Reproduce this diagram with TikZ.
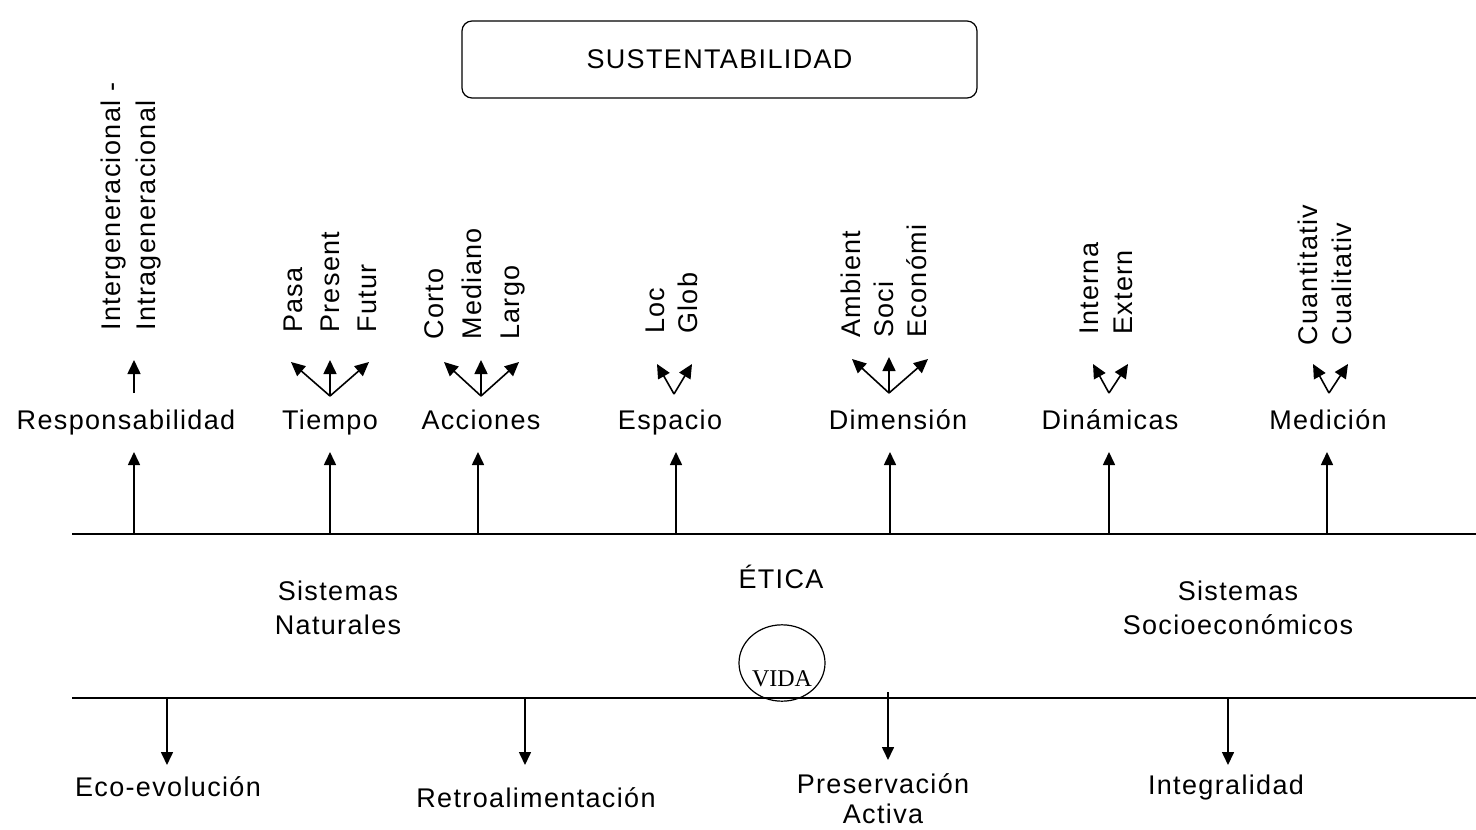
\documentclass[tikz,border=0pt]{standalone}
\usepackage{fontspec}
\setmainfont[LetterSpace=5]{Liberation Sans}
\newfontfamily\vidafont{Liberation Serif}
\usetikzlibrary{arrows.meta,shapes.geometric}
\begin{document}
\begin{tikzpicture}[x=1pt,y=-1pt,
  lbl/.style={font=\fontsize{27}{34}\selectfont, inner sep=0pt, align=center},
  vlbl/.style={font=\fontsize{27}{#1}\selectfont, inner sep=0pt, align=left, rotate=90, anchor=west},
  vlbl/.default=34,
  arr/.style={line width=1.6pt, -{Triangle[length=13pt,width=12pt]}},
  farr/.style={line width=1.6pt, -{Triangle[length=14pt,width=13pt]}},
  axis/.style={line width=1.8pt}]
\useasboundingbox (0,0) rectangle (1476,830);
% title
\node[draw, line width=1.2pt, rounded corners=10pt, minimum width=515pt, minimum height=77pt, font=\fontsize{27}{34}\selectfont] (sust) at (719.5,59.5) {SUSTENTABILIDAD};
% axes
\coordinate (l1a) at (72,534); \coordinate (l1b) at (1476,534);
\coordinate (l2a) at (72,698); \coordinate (l2b) at (1476,698);
\draw[axis] (l1a) -- (l1b);
\draw[axis] (l2a) -- (l2b);
% main labels
\node[lbl, anchor=base] (resp) at (126,429) {Responsabilidad};
\node[lbl, anchor=base] (tiem) at (330,429) {Tiempo};
\node[lbl, anchor=base] (acci) at (481,429) {Acciones};
\node[lbl, anchor=base] (espa) at (670,429) {Espacio};
\node[lbl, anchor=base] (dime) at (898,429) {Dimensión};
\node[lbl, anchor=base] (dina) at (1110,429) {Dinámicas};
\node[lbl, anchor=base] (medi) at (1328,429) {Medición};
% up arrows from axis
\foreach \n/\x in {resp/134,tiem/330,acci/478,espa/676,dime/890,dina/1109,medi/1327}{
  \coordinate (\n-b) at (\x,534);
  \coordinate (\n-t) at (\x,452);
  \draw[arr] (\n-b) -- (\n-t);
}
% sub-labels (rotated)
\node[vlbl=35] (resp-s) at (131,331) {Intergeneracional -\\Intrageneracional};
\node[vlbl=37] (tiem-s) at (330,333) {Pasa\\Present\\Futur};
\node[vlbl=38] (acci-s) at (475,340) {Corto\\Mediano\\Largo};
\node[vlbl=33] (espa-s) at (672,334) {Loc\\Glob};
\node[vlbl=33] (dime-s) at (884,338) {Ambient\\Soci\\Económi};
\node[vlbl=34] (dina-s) at (1106,335) {Interna\\Extern};
\node[vlbl=34] (medi-s) at (1325,346) {Cuantitativ\\Cualitativ};
% small arrows
\coordinate (r-o) at (134,393); \coordinate (r-1) at (134,360);
\draw[farr] (r-o) -- (r-1);
\coordinate (t-o) at (330,396);
\coordinate (t-1) at (291,362); \coordinate (t-2) at (330,360); \coordinate (t-3) at (369,362);
\draw[farr] (t-o) -- (t-1); \draw[farr] (t-o) -- (t-2); \draw[farr] (t-o) -- (t-3);
\coordinate (a-o) at (481,396);
\coordinate (a-1) at (444,362); \coordinate (a-2) at (481,360); \coordinate (a-3) at (519,362);
\draw[farr] (a-o) -- (a-1); \draw[farr] (a-o) -- (a-2); \draw[farr] (a-o) -- (a-3);
\coordinate (d-o) at (889,393);
\coordinate (d-1) at (852,359); \coordinate (d-2) at (889,357); \coordinate (d-3) at (928,359);
\draw[farr] (d-o) -- (d-1); \draw[farr] (d-o) -- (d-2); \draw[farr] (d-o) -- (d-3);
\coordinate (e-o) at (674,394);
\coordinate (e-1) at (657,364); \coordinate (e-2) at (692,364);
\draw[farr] (e-o) -- (e-1); \draw[farr] (e-o) -- (e-2);
\coordinate (n-o) at (1109,393);
\coordinate (n-1) at (1093,364); \coordinate (n-2) at (1128,364);
\draw[farr] (n-o) -- (n-1); \draw[farr] (n-o) -- (n-2);
\coordinate (m-o) at (1329,393);
\coordinate (m-1) at (1313,364); \coordinate (m-2) at (1348,364);
\draw[farr] (m-o) -- (m-1); \draw[farr] (m-o) -- (m-2);
% middle band
\node[lbl] (natu) at (338,608) {Sistemas\\Naturales};
\node[lbl] (etica) at (781,577) {ÉTICA};
\node[lbl] (soci) at (1238,608) {Sistemas\\Socioeconómicos};
\node[draw, ellipse, line width=1.2pt, inner sep=0pt, minimum width=86pt, minimum height=70pt,
      font=\vidafont\fontsize{24}{28}\selectfont, text height=50pt, text depth=4pt] (vida) at (782,663) {VIDA};
% bottom
\node[lbl] (eco) at (168,787) {Eco-evolución};
\node[lbl] (retro) at (536,798) {Retroalimentación};
\node[lbl, font=\fontsize{27}{30}\selectfont] (pres) at (883,799) {Preservación\\Activa};
\node[lbl] (inte) at (1226,788) {Integralidad};
\foreach \n/\x/\ya/\yb in {eco/167/698/765, retro/525/698/765, pres/888/692/760, inte/1228/698/765}{
  \coordinate (\n-b) at (\x,\ya);
  \coordinate (\n-t) at (\x,\yb);
  \draw[arr] (\n-b) -- (\n-t);
}
\end{tikzpicture}
\end{document}
